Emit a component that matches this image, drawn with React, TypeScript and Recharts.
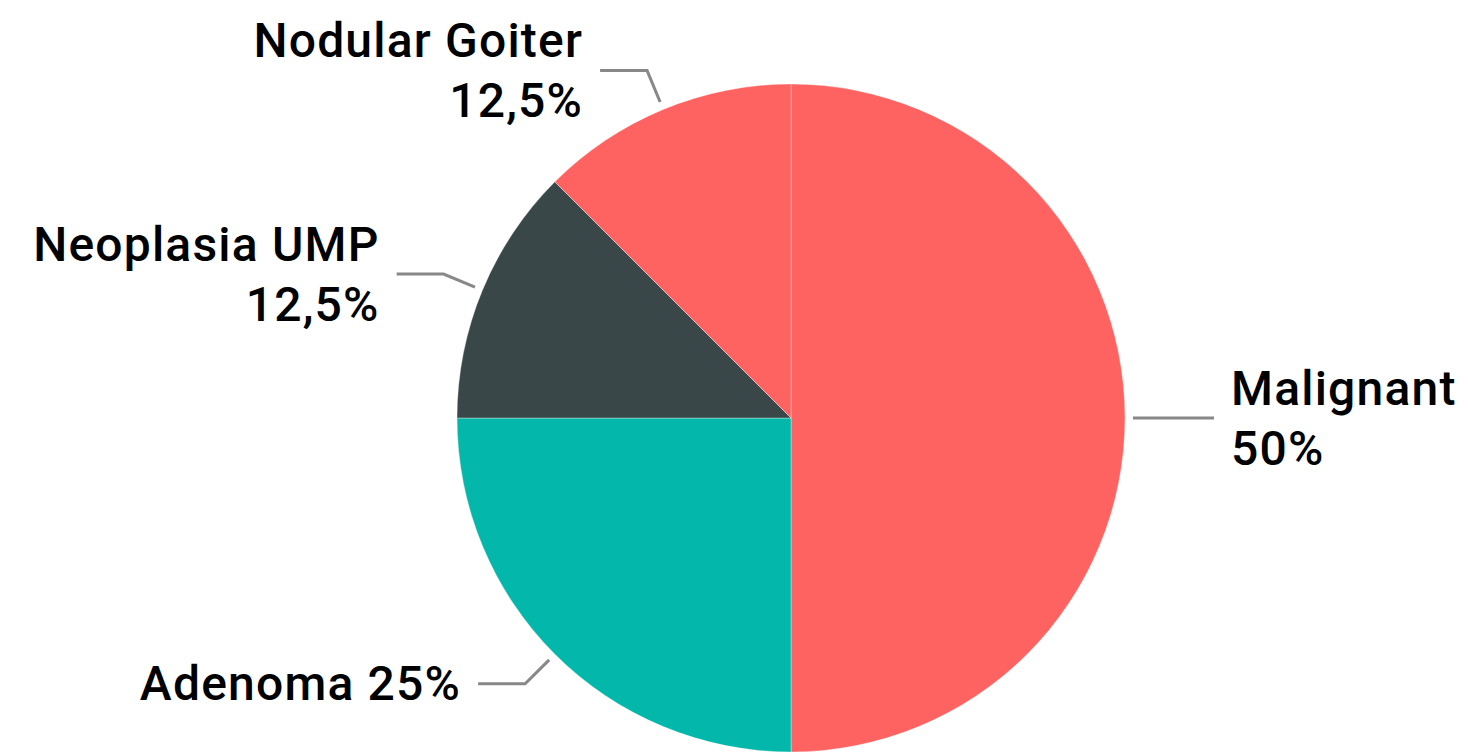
import React from 'react';
import { PieChart, Pie, Cell } from 'recharts';

const categories = ['Malignant', 'Adenoma', 'Neoplasia UMP', 'Nodular Goiter'];
const values = [50, 25, 12.5, 12.5];
const colors = ['#FF6361', '#03B8AA', '#3A4749', '#FF6361'];
// whether the percentage goes on its own line
const splitLabel = [true, false, true, true];

const data = categories.map((name, i) => ({ name, value: values[i] }));

const RADIAN = Math.PI / 180;

const formatPct = (p: number) => `${String(Math.round(p * 1000) / 10).replace('.', ',')}%`;

const renderLabel = (props: any) => {
    const { cx, cy, midAngle, outerRadius, percent, index, name } = props;
    const cos = Math.cos(-midAngle * RADIAN);
    const sin = Math.sin(-midAngle * RADIAN);
    const sx = cx + (outerRadius + 8) * cos;
    const sy = cy + (outerRadius + 8) * sin;
    const mx = cx + (outerRadius + 42) * cos;
    const my = cy + (outerRadius + 42) * sin;
    const right = cos >= 0;
    const ex = mx + (right ? 1 : -1) * 47;
    const ey = my;
    const tx = ex + (right ? 1 : -1) * 17;
    const anchor = right ? 'start' : 'end';
    const textStyle = { fontFamily: 'Roboto, sans-serif', fontSize: 48, fontWeight: 500, letterSpacing: 1.2 };
    return (
        <g key={`label-${index}`}>
            <polyline
                points={`${sx},${sy} ${mx},${my} ${ex},${ey}`}
                fill="none"
                stroke="#888888"
                strokeWidth={3}
            />
            {splitLabel[index] ? (
                <text x={tx} y={ey} textAnchor={anchor} fill="#000" style={textStyle}>
                    <tspan x={tx} y={ey - 30} dominantBaseline="central">{name}</tspan>
                    <tspan x={tx} y={ey + 30} dominantBaseline="central">{formatPct(percent)}</tspan>
                </text>
            ) : (
                <text x={tx} y={ey} textAnchor={anchor} dominantBaseline="central" fill="#000" style={textStyle}>
                    {`${name} ${formatPct(percent)}`}
                </text>
            )}
        </g>
    );
};

export default function App() {
    return (
        <div style={{ position: 'absolute', left: 0, top: 0, width: 1470, height: 756, background: '#fff' }}>
            <PieChart width={1470} height={756} margin={{ top: 0, right: 0, bottom: 0, left: 0 }}>
                <Pie
                    data={data}
                    dataKey="value"
                    nameKey="name"
                    cx={791}
                    cy={418}
                    outerRadius={334}
                    startAngle={90}
                    endAngle={-270}
                    stroke="rgba(255,255,255,0.35)"
                    strokeWidth={1}
                    label={renderLabel}
                    labelLine={false}
                    isAnimationActive={false}
                >
                    {data.map((entry, i) => (
                        <Cell key={entry.name} fill={colors[i]} />
                    ))}
                </Pie>
            </PieChart>
        </div>
    );
}
